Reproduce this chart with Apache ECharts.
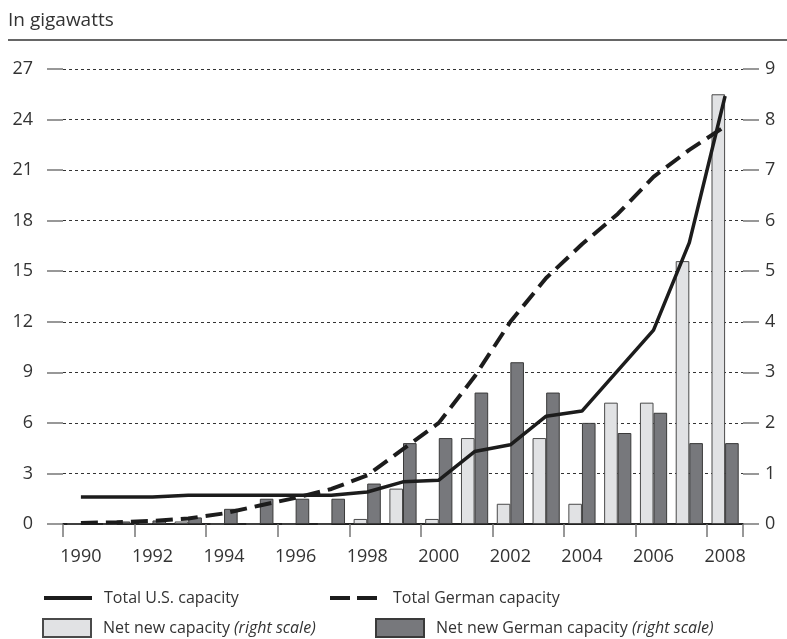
<!DOCTYPE html>
<html>
<head>
<meta charset="utf-8">
<script src="https://cdn.jsdelivr.net/npm/echarts@6/dist/echarts.min.js"></script>
<style>
html,body{margin:0;padding:0;background:#fff;}
#chart{width:787px;height:639px;}
</style>
</head>
<body>
<div id="chart"></div>
<script>
const years = ['1990','1991','1992','1993','1994','1995','1996','1997','1998','1999','2000','2001','2002','2003','2004','2005','2006','2007','2008'];
const usTotal = [1.6,1.6,1.6,1.7,1.7,1.7,1.7,1.7,1.9,2.5,2.6,4.3,4.7,6.4,6.7,9.1,11.5,16.7,25.4];
const germanTotal = [0.06,0.11,0.18,0.33,0.63,1.1,1.55,2.08,2.88,4.44,6.0,8.75,12.0,14.6,16.6,18.4,20.6,22.2,23.6];
const usNew = [0,0,0.02,0.05,0,0,0,0,0.1,0.7,0.1,1.7,0.4,1.7,0.4,2.4,2.4,5.2,8.5];
const germanNew = [0.03,0.05,0.07,0.13,0.3,0.5,0.5,0.5,0.8,1.6,1.7,2.6,3.2,2.6,2.0,1.8,2.2,1.6,1.6];
const leftTicks = {min:0, max:27, interval:3};
const rightTicks = {min:0, max:9, interval:1};

const FONT = '"Open Sans", "Noto Sans", sans-serif';
const TXT = '#333';
const chart = echarts.init(document.getElementById('chart'), null, {renderer:'canvas'});

function legendBlock(name, left, top, padLeft, italic, isLine, dashed) {
  const l = {
    data: [name], left: left, top: top, itemWidth: 48, itemHeight: 18,
    padding: 0, selectedMode: false,
    formatter: italic ? (n => n + ' {i|(right scale)}') : (n => n),
    textStyle: {
      fontFamily: FONT, fontSize: 16, color: TXT, padding: [0,0,0,padLeft],
      rich: { i: { fontFamily: FONT, fontSize: 16, color: TXT, fontStyle: 'italic' } }
    }
  };
  if (isLine) {
    l.itemStyle = {opacity: 0};
    l.lineStyle = {width: 4, color: '#1c1c1c', type: dashed ? [20, 7] : 'solid'};
  } else {
    l.icon = 'rect';
  }
  return l;
}

const option = {
  animation: false,
  backgroundColor: '#fff',
  title: {
    text: 'In gigawatts', left: 8, top: 11, padding: 0,
    textStyle: {fontFamily: FONT, fontSize: 19, fontWeight: 'normal', color: TXT}
  },
  graphic: [{
    type: 'line', shape: {x1: 8, y1: 40, x2: 787, y2: 40},
    style: {stroke: '#333', lineWidth: 1.5}
  }],
  legend: [
    legendBlock('Total U.S. capacity', 42, 590, 7, false, true, false),
    legendBlock('Total German capacity', 328, 590, 10, false, true, true),
    legendBlock('Net new capacity', 42, 618, 7, true, false),
    legendBlock('Net new German capacity', 375, 618, 7, true, false)
  ],
  grid: {left: 63, right: 44, top: 69, bottom: 115, containLabel: false},
  xAxis: {
    type: 'category', data: years, boundaryGap: true,
    axisLine: {show: true, lineStyle: {color: '#222', width: 2}},
    axisTick: {show: true, length: 13, alignWithLabel: false, lineStyle: {color: '#777', width: 1.5}},
    axisLabel: {interval: 1, margin: 24, fontFamily: FONT, fontSize: 18, color: TXT},
    splitLine: {show: false}
  },
  yAxis: [{
    type: 'value', position: 'left',
    min: leftTicks.min, max: leftTicks.max, interval: leftTicks.interval,
    axisLine: {show: false},
    axisTick: {show: true, inside: false, length: 16, lineStyle: {color: '#777', width: 1.5}},
    axisLabel: {margin: 30, fontFamily: FONT, fontSize: 18, color: TXT},
    splitLine: {show: true, lineStyle: {color: '#333', width: 1, type: [3, 3]}}
  }, {
    type: 'value', position: 'right',
    min: rightTicks.min, max: rightTicks.max, interval: rightTicks.interval,
    axisLine: {show: false},
    axisTick: {show: true, inside: false, length: 16, lineStyle: {color: '#777', width: 1.5}},
    axisLabel: {margin: 22, fontFamily: FONT, fontSize: 18, color: TXT},
    splitLine: {show: false}
  }],
  series: [{
    name: 'Net new capacity', type: 'bar', yAxisIndex: 1, data: usNew,
    barGap: '0%', barCategoryGap: '24%', z: 2,
    itemStyle: {color: '#e1e2e4', borderColor: '#4a4a4a', borderWidth: 1}
  }, {
    name: 'Net new German capacity', type: 'bar', yAxisIndex: 1, data: germanNew,
    barGap: '0%', barCategoryGap: '24%', z: 2,
    itemStyle: {color: '#77787c', borderColor: '#3a3a3a', borderWidth: 1}
  }, {
    name: 'Total U.S. capacity', type: 'line', yAxisIndex: 0, data: usTotal,
    symbol: 'none', z: 5,
    lineStyle: {color: '#1c1c1c', width: 3.5},
    itemStyle: {color: '#1c1c1c'}
  }, {
    name: 'Total German capacity', type: 'line', yAxisIndex: 0, data: germanTotal,
    symbol: 'none', z: 4,
    lineStyle: {color: '#1c1c1c', width: 4, type: [17, 8]},
    itemStyle: {color: '#1c1c1c'}
  }]
};
chart.setOption(option);
</script>
</body>
</html>
